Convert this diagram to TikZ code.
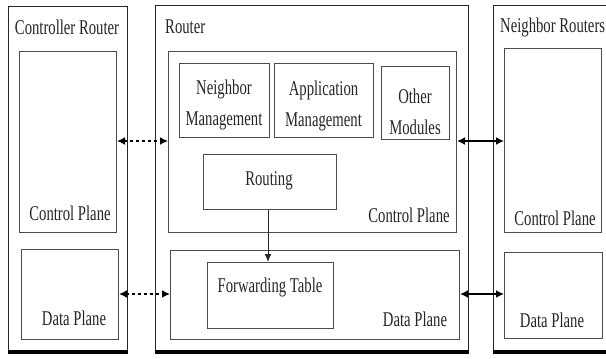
\documentclass[tikz,border=0pt]{standalone}
\usepackage{fontspec}
\setmainfont[FakeStretch=0.70]{Liberation Serif}
\usetikzlibrary{arrows.meta}
\begin{document}
\begin{tikzpicture}[x=1pt,y=-1pt,
  outerbox/.style={draw=black!85, line width=1.4pt, rectangle, inner sep=0pt, anchor=north west},
  innerbox/.style={draw=black!70, line width=1pt, rectangle, inner sep=0pt, anchor=north west},
  lbl/.style={text=black!85, inner sep=0pt, font=\fontsize{21}{31}\selectfont, align=center},
  shadowline/.style={draw=black, line width=4pt},
  darr/.style={draw=black, line width=1.6pt, {Latex[length=8pt,width=8pt]}-{Latex[length=8pt,width=8pt]}},
  dotarr/.style={draw=black, line width=1.6pt, dash pattern=on 3pt off 3pt, {Latex[length=8pt,width=8pt]}-{Latex[length=8pt,width=8pt]}},
  arr/.style={draw=black!85, line width=1pt, -{Latex[length=8pt,width=7pt]}}
]
\useasboundingbox (0,0) rectangle (606,359);
\fill[white] (0,0) rectangle (606,359);
\clip (0,0) rectangle (606,359);

% Controller router
\node[outerbox, minimum width=119pt, minimum height=345pt] (ctrl) at (8,6) {};
\draw[shadowline] (ctrl.south west) -- (ctrl.south east);
\node[lbl] (ctrltitle) at (67,27) {Controller Router};
\node[innerbox, minimum width=97pt, minimum height=181pt] (ccp) at (19,51) {};
\node[lbl] (ccplbl) at (70,213) {Control Plane};
\node[innerbox, minimum width=97pt, minimum height=90pt] (cdp) at (21,249) {};
\node[lbl] (cdplbl) at (74,318) {Data Plane};

% Router
\node[outerbox, minimum width=313pt, minimum height=346pt] (rtr) at (155,5) {};
\draw[shadowline] (rtr.south west) -- (rtr.south east);
\node[lbl, anchor=west] (rtrtitle) at (165,27) {Router};
\node[innerbox, minimum width=288pt, minimum height=181pt] (rcp) at (168,51) {};
\node[lbl] (rcplbl) at (409,215) {Control Plane};
\node[innerbox, minimum width=90pt, minimum height=74pt] (nm) at (179,63) {};
\node[lbl] (nmlbl) at (224,105) {Neighbor\\Management};
\node[innerbox, minimum width=99pt, minimum height=74pt] (am) at (274,63) {};
\node[lbl] (amlbl) at (323.5,106) {Application\\Management};
\node[innerbox, minimum width=68pt, minimum height=73pt] (om) at (381,66) {};
\node[lbl] (omlbl) at (415,112) {Other\\Modules};
\node[innerbox, minimum width=133pt, minimum height=55pt] (routing) at (203,154) {};
\node[lbl] (routinglbl) at (269,181) {Routing};
\node[innerbox, minimum width=289pt, minimum height=89pt] (rdp) at (170,250) {};
\node[lbl] (rdplbl) at (415,319) {Data Plane};
\node[innerbox, minimum width=126pt, minimum height=66pt] (fwd) at (207,262) {};
\node[lbl] (fwdlbl) at (270,287) {Forwarding Table};

% Neighbor routers
\node[outerbox, minimum width=125pt, minimum height=346pt] (nbr) at (493,5) {};
\draw[shadowline] (nbr.south west) -- (nbr.south east);
\node[lbl, anchor=west] (nbrtitle) at (500,27) {Neighbor Routers};
\node[innerbox, minimum width=97pt, minimum height=184pt] (ncp) at (504,48) {};
\node[lbl] (ncplbl) at (555,218) {Control Plane};
\node[innerbox, minimum width=98pt, minimum height=86pt] (ndp) at (504,252) {};
\node[lbl] (ndplbl) at (552,320) {Data Plane};

% connectors
\coordinate (yc) at (0,141);
\coordinate (yd) at (0,294);
\draw[dotarr] (ccp.east |- yc) -- (rcp.west |- yc);
\draw[dotarr] (cdp.east |- yd) -- (rdp.west |- yd);
\draw[darr] (rcp.east |- yc) -- (ncp.west |- yc);
\draw[darr] (rdp.east |- yd) -- (ndp.west |- yd);
\draw[arr] (routing.south -| 268,0) -- (fwd.north -| 268,0);
\end{tikzpicture}
\end{document}
